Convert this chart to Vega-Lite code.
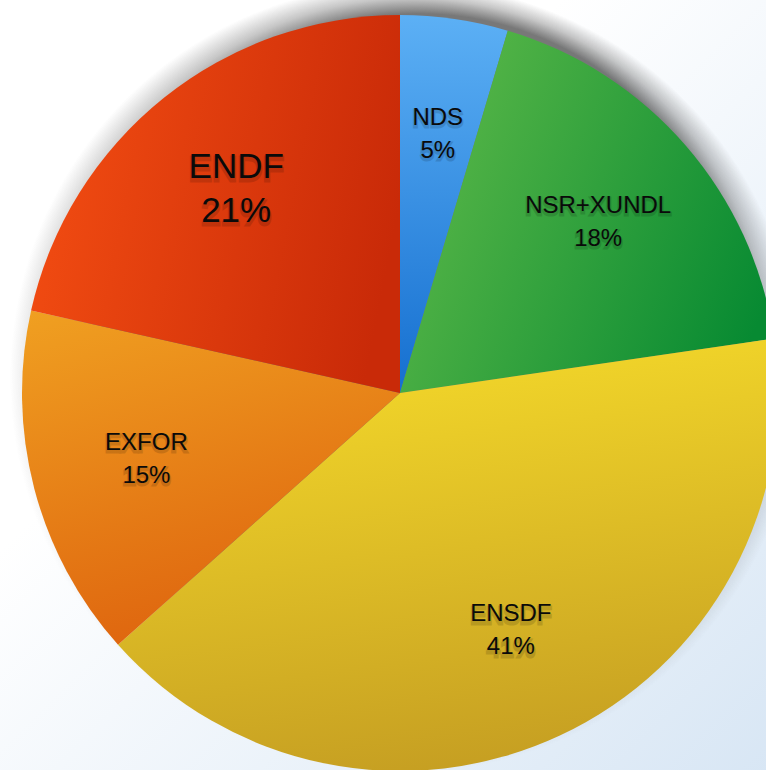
{
  "$schema": "https://vega.github.io/schema/vega-lite/v6.json",
  "width": 800,
  "height": 786,
  "padding": 0,
  "autosize": "none",
  "background": "#ffffff",
  "view": {"stroke": null, "fill": {"gradient": "linear", "x1": 0.35, "y1": 0.35, "x2": 1, "y2": 1, "stops": [{"offset": 0, "color": "#ffffff"}, {"offset": 1, "color": "#d6e5f4"}]}},
  "datasets": {
    "shares": [
      {"idx": 1, "category": "NDS", "value": 4.6, "label": "NDS\n5%"},
      {"idx": 2, "category": "NSR+XUNDL", "value": 18.1, "label": "NSR+XUNDL\n18%"},
      {"idx": 3, "category": "ENSDF", "value": 40.7, "label": "ENSDF\n41%"},
      {"idx": 4, "category": "EXFOR", "value": 15.1, "label": "EXFOR\n15%"},
      {"idx": 5, "category": "ENDF", "value": 21.5, "label": "ENDF\n21%"}
    ],
    "disc": [{"name": "shadow"}]
  },
  "layer": [
    {
      "data": {"name": "disc"},
      "mark": {"type": "arc", "theta": 0, "theta2": 6.2832, "radius": 420, "stroke": null,
        "fill": {"gradient": "radial", "x1": 0.595, "y1": 0.202, "r1": 0, "x2": 0.5, "y2": 0.5, "r2": 0.5,
          "stops": [
            {"offset": 0, "color": "rgba(30,30,30,0.6)"},
            {"offset": 0.76, "color": "rgba(30,30,30,0.6)"},
            {"offset": 0.85, "color": "rgba(30,30,30,0.25)"},
            {"offset": 0.94, "color": "rgba(30,30,30,0)"},
            {"offset": 1, "color": "rgba(30,30,30,0)"}
          ]}},
      "encoding": {}
    },
    {
      "data": {"name": "shares"},
      "mark": {"type": "arc", "radius": 378, "stroke": null},
      "encoding": {
        "theta": {"field": "value", "type": "quantitative", "stack": true},
        "order": {"field": "idx", "type": "quantitative"},
        "color": {
          "condition": [
            {"test": "datum.category === 'NDS'", "value": {"gradient": "linear", "x1": 0, "y1": 0, "x2": 0, "y2": 1, "stops": [{"offset": 0, "color": "#5cb0f5"}, {"offset": 1, "color": "#156fd0"}]}},
            {"test": "datum.category === 'NSR+XUNDL'", "value": {"gradient": "linear", "x1": 0, "y1": 0.3, "x2": 1, "y2": 0.7, "stops": [{"offset": 0, "color": "#5bb848"}, {"offset": 1, "color": "#078a32"}]}},
            {"test": "datum.category === 'ENSDF'", "value": {"gradient": "linear", "x1": 0.3, "y1": 0, "x2": 0.5, "y2": 1, "stops": [{"offset": 0, "color": "#f5da2a"}, {"offset": 1, "color": "#c69f22"}]}},
            {"test": "datum.category === 'EXFOR'", "value": {"gradient": "linear", "x1": 0, "y1": 0, "x2": 0.3, "y2": 1, "stops": [{"offset": 0, "color": "#f0a021"}, {"offset": 1, "color": "#df660f"}]}}
          ],
          "value": {"gradient": "linear", "x1": 0, "y1": 0.3, "x2": 1, "y2": 0.5, "stops": [{"offset": 0, "color": "#f34d12"}, {"offset": 1, "color": "#c92a08"}]}
        }
      }
    },
    {
      "data": {"name": "shares"},
      "mark": {"type": "text", "radius": 262, "font": "Liberation Sans", "fontSize": 24, "lineHeight": 33, "lineBreak": "\n", "dy": -13.5, "color": "#000000", "stroke": "#000000", "strokeWidth": 3, "opacity": 0.13, "align": "center", "baseline": "middle"},
      "encoding": {
        "theta": {"field": "value", "type": "quantitative", "stack": true},
        "order": {"field": "idx", "type": "quantitative"},
        "text": {"condition": {"test": "datum.category === 'ENDF'", "value": ""}, "field": "label", "type": "nominal"}
      }
    },
    {
      "data": {"name": "shares"},
      "mark": {"type": "text", "radius": 262, "font": "Liberation Sans", "fontSize": 35, "lineHeight": 44, "lineBreak": "\n", "dy": -18.5, "color": "#000000", "stroke": "#000000", "strokeWidth": 3, "opacity": 0.13, "align": "center", "baseline": "middle"},
      "encoding": {
        "theta": {"field": "value", "type": "quantitative", "stack": true},
        "order": {"field": "idx", "type": "quantitative"},
        "text": {"condition": {"test": "datum.category !== 'ENDF'", "value": ""}, "field": "label", "type": "nominal"}
      }
    },
    {
      "data": {"name": "shares"},
      "mark": {"type": "text", "radius": 262, "font": "Liberation Sans", "fontSize": 24, "lineHeight": 33, "lineBreak": "\n", "dy": -16, "color": "#0a0a0a", "align": "center", "baseline": "middle"},
      "encoding": {
        "theta": {"field": "value", "type": "quantitative", "stack": true},
        "order": {"field": "idx", "type": "quantitative"},
        "text": {"condition": {"test": "datum.category === 'ENDF'", "value": ""}, "field": "label", "type": "nominal"}
      }
    },
    {
      "data": {"name": "shares"},
      "mark": {"type": "text", "radius": 262, "font": "Liberation Sans", "fontSize": 35, "lineHeight": 44, "lineBreak": "\n", "dy": -22, "color": "#0a0a0a", "align": "center", "baseline": "middle"},
      "encoding": {
        "theta": {"field": "value", "type": "quantitative", "stack": true},
        "order": {"field": "idx", "type": "quantitative"},
        "text": {"condition": {"test": "datum.category !== 'ENDF'", "value": ""}, "field": "label", "type": "nominal"}
      }
    }
  ]
}
